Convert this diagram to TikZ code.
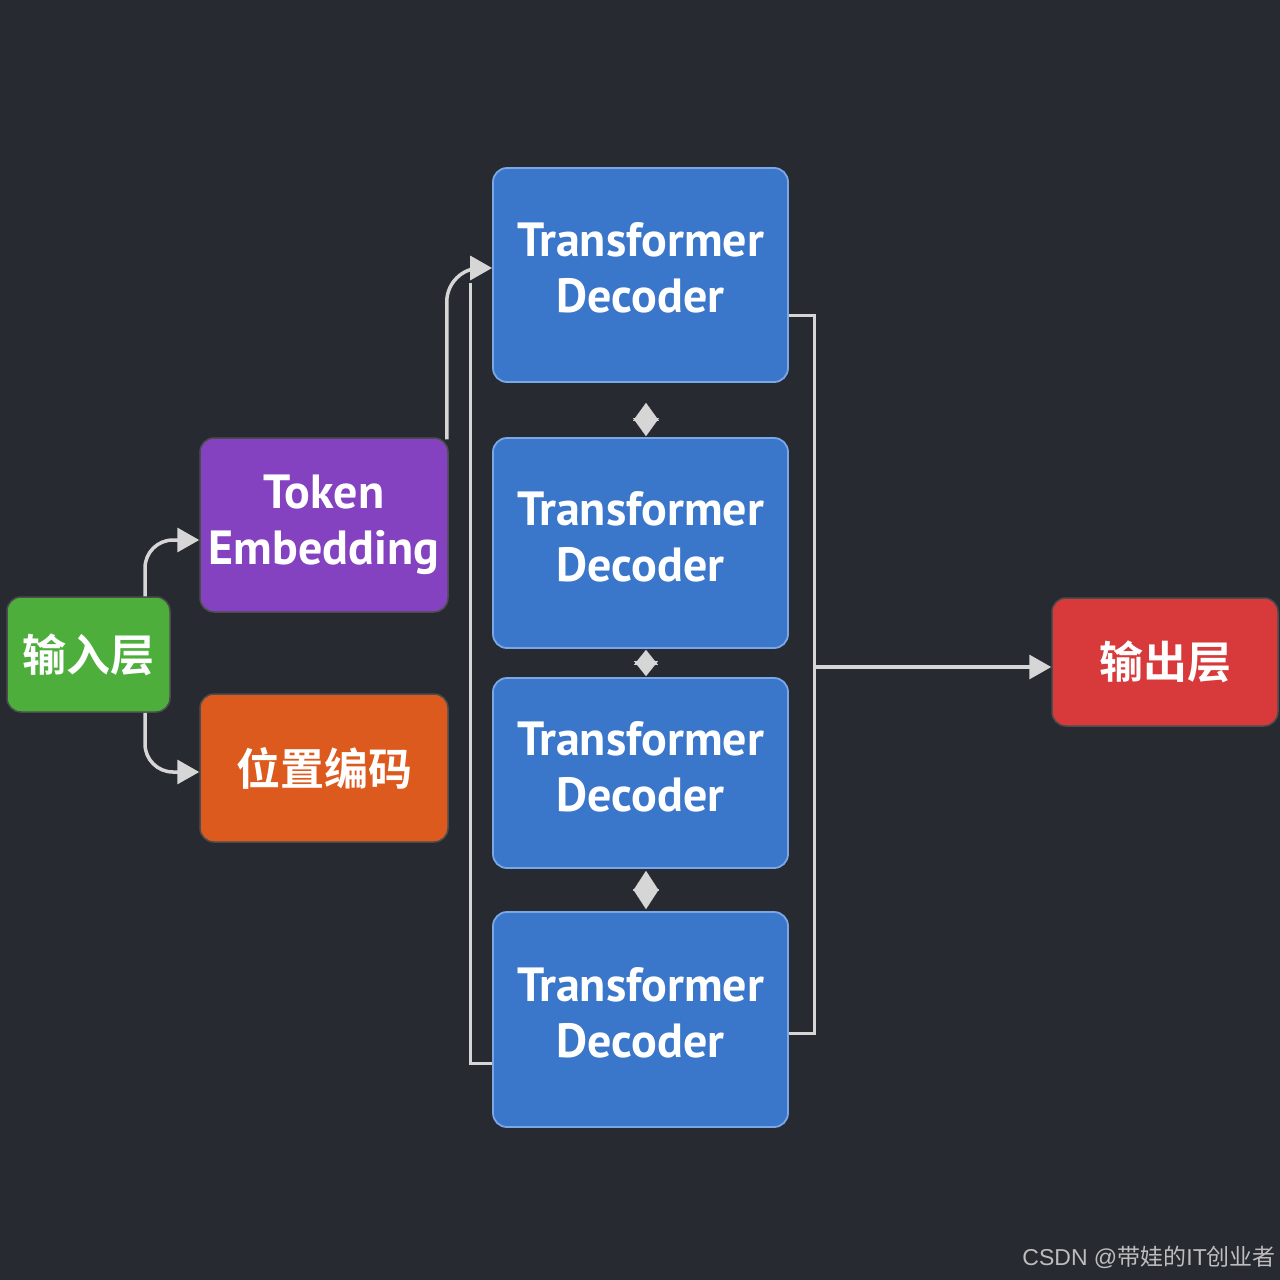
\documentclass[tikz,border=0pt]{standalone}
\usepackage{fontspec}
\setmainfont{PT Sans}
\newfontfamily\cjkb{Noto Sans CJK SC Bold}
\newfontfamily\cjkr{Noto Sans CJK SC}
\newfontfamily\wmfont{Liberation Sans}
\usetikzlibrary{arrows.meta,positioning}
\definecolor{bg}{HTML}{272A31}
\definecolor{cgreen}{HTML}{4DAE3C}
\definecolor{cpurple}{HTML}{8442C0}
\definecolor{corange}{HTML}{DC5A1E}
\definecolor{cblue}{HTML}{3A76CA}
\definecolor{cblueedge}{HTML}{7AA8E6}
\definecolor{cred}{HTML}{D8393A}
\definecolor{cline}{HTML}{D6D6D6}
\definecolor{cwm}{HTML}{BDBDBD}
\tikzset{
  boxbase/.style={rounded corners=14pt, inner sep=0pt, text=white, align=center,
    font=\fontsize{48}{56}\selectfont\bfseries},
  greenbox/.style={boxbase, fill=cgreen, draw=black!70, line width=1.5pt},
  purplebox/.style={boxbase, fill=cpurple, draw=black!70, line width=1.5pt},
  orangebox/.style={boxbase, fill=corange, draw=black!70, line width=1.5pt},
  bluebox/.style={boxbase, fill=cblue, draw=cblueedge, line width=1.8pt, text depth=14pt},
  redbox/.style={boxbase, fill=cred, draw=black!70, line width=1.5pt},
  cjktext/.style={font=\cjkb\fontsize{44}{50}\selectfont},
  conn/.style={draw=cline, line width=3.5pt},
  arr/.style={conn, -{Triangle[width=24pt,length=22pt]}},
  plain/.style={draw=cline, line width=3pt},
  dia/.style={cline, line width=0.1pt},
}
\begin{document}
\begin{tikzpicture}[x=1pt,y=-1pt]
\fill[bg] (0,0) rectangle (1280,1280);
\useasboundingbox (0,0) rectangle (1280,1280);

% nodes
\node[greenbox, cjktext, minimum width=163pt, minimum height=115pt] (in) at (88.5,654.5) {输入层};
\node[purplebox, minimum width=248pt, minimum height=174pt] (tok) at (324,525) {Token\\Embedding};
\node[orangebox, cjktext, minimum width=248pt, minimum height=148pt] (pos) at (324,768) {位置编码};
\node[bluebox, minimum width=295pt, minimum height=214pt] (td1) at (640.5,275) {Transformer\\Decoder};
\node[bluebox, minimum width=295pt, minimum height=210pt] (td2) at (640.5,543) {Transformer\\Decoder};
\node[bluebox, minimum width=295pt, minimum height=190pt] (td3) at (640.5,773) {Transformer\\Decoder};
\node[bluebox, minimum width=295pt, minimum height=215pt] (td4) at (640.5,1019.5) {Transformer\\Decoder};
\node[redbox, cjktext, minimum width=226pt, minimum height=128pt] (out) at (1165,662) {输出层};

% input branches
\draw[arr, rounded corners=28pt] ([xshift=56.5pt]in.north) |- ([yshift=-15pt]tok.west);
\draw[arr, rounded corners=28pt] ([xshift=56.5pt]in.south) |- ([yshift=-4pt]pos.west);

% token embedding to first decoder
\draw[arr, rounded corners=34pt] ([xshift=-2pt,yshift=-2pt]tok.north east) |- ([yshift=7pt]td1.west);

% loop from last decoder back up
\coordinate (looptop) at (470,283);
\draw[plain] ([yshift=-44pt]td4.west) -| (looptop);

% right side bus
\coordinate (bus) at (814,667);
\draw[plain] ([yshift=-40pt]td1.east) -| (bus) |- ([yshift=-13.5pt]td4.east);
\draw[arr] (bus) -- ([yshift=-5pt]out.west);

% double arrows between decoders
\draw[dia, {Triangle[width=26pt,length=18pt]}-{Triangle[width=26pt,length=18pt]}]
  ([xshift=5.5pt,yshift=-20pt]td1.south) -- ([xshift=5.5pt,yshift=1pt]td2.north);
\draw[dia, {Triangle[width=24pt,length=15pt]}-{Triangle[width=24pt,length=15pt]}]
  ([xshift=5.5pt,yshift=-1pt]td2.south) -- ([xshift=5.5pt,yshift=1pt]td3.north);
\draw[dia, {Triangle[width=26pt,length=20pt]}-{Triangle[width=26pt,length=20pt]}]
  ([xshift=5.5pt,yshift=-2pt]td3.south) -- ([xshift=5.5pt,yshift=2pt]td4.north);

% watermark
\node[anchor=east, text=cwm, inner sep=0pt, font=\wmfont\fontsize{23}{26}\selectfont] (wm) at (1276,1257) {CSDN @{\cjkr 带娃的}IT{\cjkr 创业者}};
\end{tikzpicture}
\end{document}
